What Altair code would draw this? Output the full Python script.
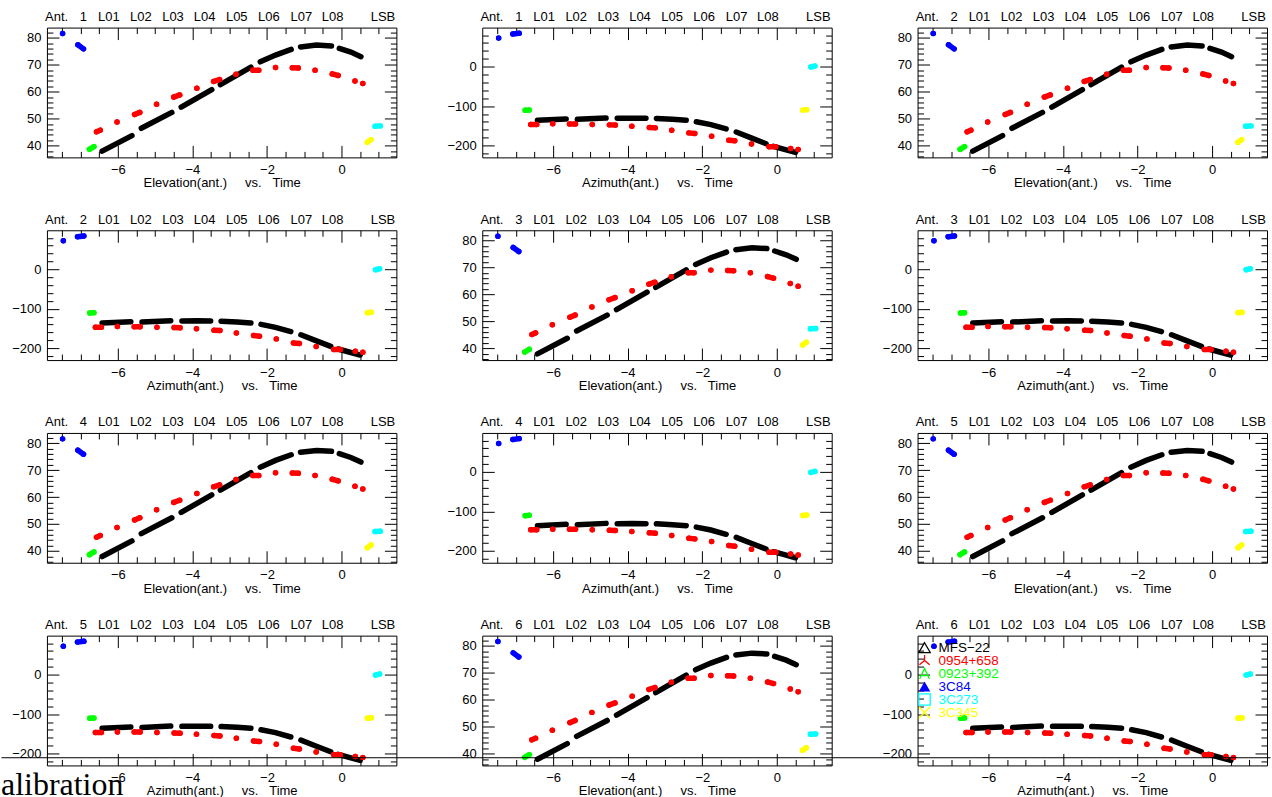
import altair as alt
import pandas as pd

NB = "\u00a0"
FONT = "Liberation Sans"

# ---------------- sources ----------------
SRC_NAMES = ["MFS-22", "0954+658", "0923+392", "3C84", "3C273", "3C345"]
SRC_COLORS = ["#000000", "#ff0000", "#00ff00", "#0000ff", "#00ffff", "#ffff00"]
LEG_LABELS = ["MFS\u221222", "0954+658", "0923+392", "3C84", "3C273", "3C345"]
LEG_SHAPES = [
    "triangle-up",
    "M0,-1L0,0M0,0L-0.9,0.75M0,0L0.9,0.75",
    "M-0.85,0.9L0,-0.9L0.85,0.9M-0.6,0.35L0.6,0.35",
    "triangle-up",
    "square",
    "M-1,-1L1,1M-1,1L1,-1",
]
LEG_FILLED = [False, False, False, True, False, False]

# ---------------- axes ----------------
TIME_DOMAIN = [-7.9, 1.47]
EL_DOMAIN = [35.6, 83.8]
AZ_DOMAIN = [-230.0, 99.0]
X_MAJOR = [-6, -4, -2, 0]
X_MINOR = [-7.5, -7, -6.5, -5.5, -5, -4.5, -3.5, -3, -2.5, -1.5, -1, -0.5, 0.5, 1]
EL_MAJOR = [40, 50, 60, 70, 80]
EL_MINOR = [36, 38, 42, 44, 46, 48, 52, 54, 56, 58, 62, 64, 66, 68, 72, 74, 76, 78, 82]
AZ_MAJOR = [-200, -100, 0]
AZ_MINOR = [-220, -180, -160, -140, -120, -80, -60, -40, -20, 20, 40, 60, 80]

TOP_LABELS = ["Ant.", "#", "L01", "L02", "L03", "L04", "L05", "L06", "L07", "L08", "LSB"]
TOP_LABEL_T = [-7.64, -6.92, -6.24, -5.38, -4.52, -3.67, -2.81, -1.95, -1.08, -0.24, 1.11]

PANEL_ANT = [1, 1, 2, 2, 3, 3, 4, 4, 5, 5, 6, 6]
PANEL_KIND = ["el", "az"] * 6
EL_TITLE = "Elevation(ant.)" + NB * 5 + "vs." + NB * 3 + "Time"
AZ_TITLE = "Azimuth(ant.)" + NB * 5 + "vs." + NB * 3 + "Time"
FOOTER_TEXT = "alibration"

# ---------------- MFS-22 scans (black) ----------------
EL_BLK_SEG = [1, 1, 2, 2, 3, 3, 4, 4, 5, 5, 5, 6, 6, 6, 7, 7, 7]
EL_BLK_T = [-6.42, -5.62, -5.37, -4.55, -4.30, -3.48, -3.25, -2.43,
            -2.18, -1.77, -1.35, -1.10, -0.67, -0.27, -0.06, 0.25, 0.52]
EL_BLK_V = [37.9, 43.7, 46.4, 52.3, 54.3, 60.8, 62.6, 69.1,
            71.1, 73.6, 75.7, 76.6, 77.3, 77.0, 76.1, 74.7, 73.0]

AZ_BLK_SEG = [1, 1, 2, 2, 3, 3, 3, 4, 4, 4, 5, 5, 5, 6, 6, 6, 7, 7, 7]
AZ_BLK_T = [-6.42, -5.65, -5.35, -4.58, -4.28, -3.87, -3.51, -3.23, -2.80, -2.43,
            -2.16, -1.77, -1.36, -1.09, -0.69, -0.29, -0.09, 0.20, 0.50]
AZ_BLK_V = [-136.0, -132.6, -133.6, -130.2, -131.0, -130.5, -131.0, -131.4, -133.5, -136.0,
            -139.6, -147.0, -157.9, -165.8, -180.6, -195.3, -202.0, -209.5, -217.3]

# ---------------- other sources ----------------
PT_SRC = (["3C84"] * 3 + ["0923+392"] * 2 + ["0954+658"] * 22
          + ["3C273"] * 2 + ["3C345"] * 2)
PT_GRP = ["b1", "b2", "b2", "g1", "g1",
          "r1", "r1", "r2", "r3", "r3", "r4", "r5", "r5", "r6", "r7", "r7", "r8",
          "r9", "r9", "r10", "r11", "r11", "r12", "r13", "r13", "r14", "r15",
          "c1", "c1", "y1", "y1"]
EL_PT_T = [-7.48, -7.07, -6.92, -6.76, -6.64,
           -6.57, -6.47, -6.02, -5.55, -5.41, -4.96, -4.50, -4.34, -3.88, -3.43, -3.27, -2.83,
           -2.38, -2.22, -1.77, -1.32, -1.16, -0.71, -0.25, -0.09, 0.36, 0.57,
           0.90, 1.04, 0.69, 0.79]
EL_PT_V = [81.6, 77.4, 75.9, 38.6, 39.6,
           45.1, 45.7, 48.7, 51.5, 52.3, 55.3, 58.0, 58.8, 61.3, 63.8, 64.5, 66.5,
           68.0, 68.0, 69.0, 68.9, 68.8, 68.0, 66.6, 66.0, 64.0, 63.0,
           47.2, 47.3, 41.2, 42.2]
AZ_PT_T = [-7.46, -7.08, -6.91, -6.75, -6.64,
           -6.60, -6.44, -6.01, -5.56, -5.40, -4.95, -4.49, -4.33, -3.89, -3.42, -3.26, -2.82,
           -2.36, -2.20, -1.75, -1.29, -1.13, -0.68, -0.21, -0.03, 0.37, 0.57,
           0.91, 1.02, 0.69, 0.80]
AZ_PT_V = [72.3, 82.6, 84.6, -110.6, -109.8,
           -146.6, -146.6, -145.0, -145.3, -145.3, -146.6, -147.6, -148.2, -150.9, -154.2, -155.2, -161.1,
           -167.9, -169.5, -176.3, -186.5, -188.1, -195.9, -203.1, -203.1, -207.6, -210.2,
           -1.0, 1.5, -110.2, -109.0]


def axis(orient, values, size, **kw):
    base = dict(orient=orient, values=values, tickSize=size, offset=-size,
                domain=False, grid=False, tickColor="black", tickWidth=1,
                labels=False, title=None)
    base.update(kw)
    return alt.Axis(**base)


color_enc = alt.Color("src:N", scale=alt.Scale(domain=SRC_NAMES, range=SRC_COLORS), legend=None)


def make_panel(idx):
    ant = PANEL_ANT[idx]
    kind = PANEL_KIND[idx]
    if kind == "el":
        blk = pd.DataFrame({"seg": EL_BLK_SEG, "t": EL_BLK_T, "v": EL_BLK_V})
        pts = pd.DataFrame({"src": PT_SRC, "grp": PT_GRP, "t": EL_PT_T, "v": EL_PT_V})
        ydom, ymaj, ymin, xtitle = EL_DOMAIN, EL_MAJOR, EL_MINOR, EL_TITLE
    else:
        blk = pd.DataFrame({"seg": AZ_BLK_SEG, "t": AZ_BLK_T, "v": AZ_BLK_V})
        pts = pd.DataFrame({"src": PT_SRC, "grp": PT_GRP, "t": AZ_PT_T, "v": AZ_PT_V})
        ydom, ymaj, ymin, xtitle = AZ_DOMAIN, AZ_MAJOR, AZ_MINOR, AZ_TITLE

    xs = alt.Scale(domain=TIME_DOMAIN, nice=False, zero=False)
    ys = alt.Scale(domain=ydom, nice=False, zero=False)

    def carrier(xaxis, yaxis):
        return alt.Chart(blk).mark_point(opacity=0, size=1).encode(
            x=alt.X("t:Q", scale=xs, axis=xaxis),
            y=alt.Y("v:Q", scale=ys, axis=yaxis))

    lab = dict(labels=True, labelFont=FONT, labelFontSize=13, labelColor="black")
    c1 = carrier(
        axis("bottom", X_MAJOR, 12, labelPadding=6, title=xtitle, titleX=175, titleY=41.5,
             titleBaseline="alphabetic", titleFont=FONT, titleFontSize=13,
             titleFontWeight="normal", titleColor="black", **lab),
        axis("left", ymaj, 12, labelPadding=6, **lab))
    c2 = carrier(axis("bottom", X_MINOR, 6), axis("left", ymin, 6))
    c3 = carrier(axis("top", X_MAJOR, 12), axis("right", ymaj, 12))
    c4 = carrier(axis("top", X_MINOR, 6), axis("right", ymin, 6))

    black = alt.Chart(blk).mark_line(color="black", strokeWidth=5.5, strokeCap="round").encode(
        x=alt.X("t:Q", scale=xs, axis=None), y=alt.Y("v:Q", scale=ys, axis=None), detail="seg:N")
    streaks = alt.Chart(pts).mark_line(strokeWidth=5.5, strokeCap="round").encode(
        x=alt.X("t:Q", scale=xs, axis=None), y=alt.Y("v:Q", scale=ys, axis=None),
        detail="grp:N", color=color_enc)
    dots = alt.Chart(pts).mark_circle(size=30, opacity=1).encode(
        x=alt.X("t:Q", scale=xs, axis=None), y=alt.Y("v:Q", scale=ys, axis=None), color=color_enc)

    labels = [str(ant) if s == "#" else s for s in TOP_LABELS]
    top_df = pd.DataFrame({"lab": labels, "x": TOP_LABEL_T})
    top = alt.Chart(top_df).mark_text(font=FONT, fontSize=13, baseline="alphabetic",
                                      align="center", color="black").encode(
        x=alt.X("x:Q", scale=xs, axis=None), y=alt.value(-6.5), text="lab:N")

    layers = [c1, c2, c3, c4, black, streaks, dots, top]

    if idx == 9:
        foot = alt.Chart(pd.DataFrame({"txt": [FOOTER_TEXT]})).mark_text(
            font="Liberation Serif", fontSize=32, align="left", baseline="alphabetic",
            color="black").encode(x=alt.value(-46), y=alt.value(159.3), text="txt:N")
        layers.append(foot)

    if idx == 11:
        leg_df = pd.DataFrame({"i": list(range(len(LEG_LABELS))), "name": LEG_LABELS,
                               "col": SRC_COLORS, "shape": LEG_SHAPES, "filled": LEG_FILLED})
        base = alt.Chart(leg_df).transform_calculate(py="12 + 13 * datum.i")
        sym_open = base.transform_filter("!datum.filled").mark_point(
            size=130, strokeWidth=1.3, filled=False, opacity=1).encode(
            x=alt.value(7), y=alt.Y("py:Q", scale=None),
            shape=alt.Shape("shape:N", scale=None), stroke=alt.Stroke("col:N", scale=None))
        sym_fill = base.transform_filter("datum.filled").mark_point(
            size=130, filled=True, opacity=1).encode(
            x=alt.value(7), y=alt.Y("py:Q", scale=None),
            shape=alt.Shape("shape:N", scale=None), fill=alt.Fill("col:N", scale=None))
        txt = base.mark_text(align="left", baseline="middle", font=FONT, fontSize=13.5).encode(
            x=alt.value(21), y=alt.Y("py:Q", scale=None), text="name:N",
            color=alt.Color("col:N", scale=None))
        rule = alt.Chart(pd.DataFrame({"k": [0]})).mark_rule(color="black", strokeWidth=1).encode(
            x=alt.value(-917.5), x2=alt.value(353.5), y=alt.value(122.3))
        layers += [sym_open, sym_fill, txt, rule]

    return alt.layer(*layers).resolve_axis(x="independent", y="independent").properties(
        width=350, height=130)


panels = [make_panel(i) for i in range(12)]

chart = alt.concat(*panels, columns=3, spacing={"row": 73, "column": 86}, bounds="flush").properties(
    padding={"left": 0, "top": 10, "right": 0, "bottom": 0}
).configure(font=FONT).configure_view(stroke="black", strokeWidth=1)

chart.save("out.html", embed_options={"renderer": "svg", "actions": False})
